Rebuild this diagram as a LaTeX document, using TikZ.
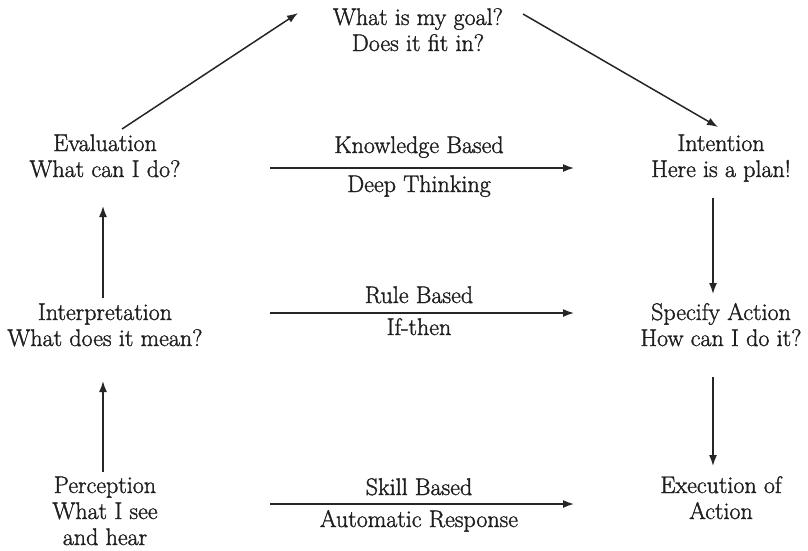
\documentclass[tikz,border=0pt]{standalone}
\usepackage{fontspec}
\newfontfamily\labfont{Latin Modern Roman}[FakeBold=1.4]
\usetikzlibrary{arrows.meta}
\begin{document}
\begin{tikzpicture}[x=1pt,y=-1pt,
  lbl/.style={inner sep=0pt, align=center, anchor=base, text=black!88,
              font=\labfont\fontsize{24}{26}\selectfont},
  arr/.style={line width=1.5pt, draw=black!85,
              -{Latex[length=11pt,width=8pt]}}]
\useasboundingbox (0,0) rectangle (808,550);
% main stages (anchored at baseline of last line)
\node[lbl] (goal)   at (418,51)  {What is my goal?\\Does it fit in?};
\node[lbl] (eval)   at (105,177) {Evaluation\\What can I do?};
\node[lbl] (intent) at (721,177) {Intention\\Here is a plan!};
\node[lbl] (interp) at (105,346) {Interpretation\\What does it mean?};
\node[lbl] (spec)   at (721,346) {Specify Action\\How can I do it?};
\node[lbl] (perc)   at (105,545) {Perception\\What I see\\and hear};
\node[lbl] (exec)   at (721,519) {Execution of\\Action};
% level labels
\node[lbl] (kb) at (419,153) {Knowledge Based};
\node[lbl] (dt) at (419,192) {Deep Thinking};
\node[lbl] (rb) at (419,303) {Rule Based};
\node[lbl] (it) at (419,335) {If-then};
\node[lbl] (sb) at (419,495) {Skill Based};
\node[lbl] (ar) at (419,527) {Automatic Response};
% arrow end points
\coordinate (k1) at (270,168); \coordinate (k2) at (574,168);
\coordinate (r1) at (270,313); \coordinate (r2) at (574,313);
\coordinate (s1) at (270,504); \coordinate (s2) at (574,504);
\coordinate (e1) at (122,129); \coordinate (e2) at (298,13);
\coordinate (g1) at (523,14);  \coordinate (g2) at (718,127);
\coordinate (p1) at (103,472); \coordinate (p2) at (103,381);
\coordinate (i1) at (103,298); \coordinate (i2) at (103,206);
\coordinate (n1) at (713,198); \coordinate (n2) at (713,294);
\coordinate (c1) at (713,377); \coordinate (c2) at (713,466);
% connectors
\draw[arr] (k1) -- (k2);
\draw[arr] (r1) -- (r2);
\draw[arr] (s1) -- (s2);
\draw[arr] (e1) -- (e2);
\draw[arr] (g1) -- (g2);
\draw[arr] (p1) -- (p2);
\draw[arr] (i1) -- (i2);
\draw[arr] (n1) -- (n2);
\draw[arr] (c1) -- (c2);
\end{tikzpicture}
\end{document}
